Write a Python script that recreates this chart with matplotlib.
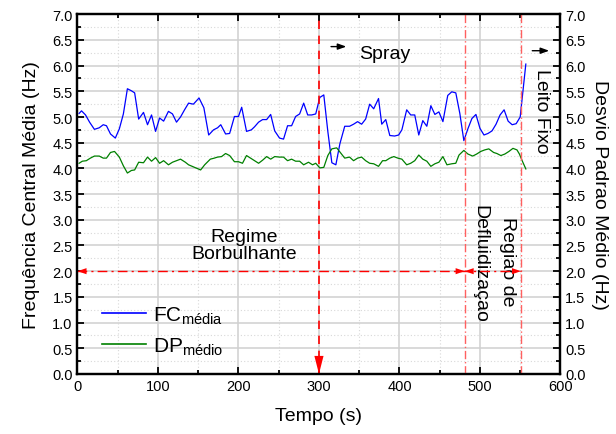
import matplotlib
matplotlib.use("Agg")
import matplotlib.pyplot as plt
from matplotlib.ticker import MultipleLocator

plt.rcParams['font.family'] = ['Liberation Sans', 'DejaVu Sans']
plt.rcParams['mathtext.fontset'] = 'custom'
plt.rcParams['mathtext.rm'] = 'Liberation Sans'
plt.rcParams['mathtext.it'] = 'Liberation Sans:italic'

# ---- data -------------------------------------------------------------
fc_time = [2, 5, 10, 15, 21, 27, 32, 36, 41, 47, 52, 57, 62, 67, 71, 76, 82, 87,
           92, 97, 102, 107, 113, 118, 123, 128, 133, 138, 144, 151, 157, 163,
           169, 174, 178, 184, 189, 195, 200, 204, 210, 216, 220, 225, 230, 235,
           240, 245, 251, 256, 261, 266, 271, 276, 281, 286, 291, 296, 301, 306,
           311, 316, 321, 326, 332, 338, 343, 348, 353, 358, 363, 368, 374, 378,
           383, 388, 394, 399, 403, 409, 414, 419, 424, 429, 434, 439, 444, 449,
           454, 460, 465, 470, 475, 480, 485, 490, 495, 500, 505, 510, 515, 520,
           525, 530, 535, 540, 545, 550, 557]
fc_media = [5.07, 5.12, 5.04, 4.90, 4.76, 4.79, 4.85, 4.83, 4.67, 4.59, 4.77, 5.06,
            5.55, 5.51, 5.47, 4.96, 5.09, 4.85, 5.04, 4.72, 4.98, 4.92, 5.11, 5.06,
            4.90, 5.00, 5.14, 5.27, 5.25, 5.37, 5.18, 4.65, 4.75, 4.79, 4.85, 4.67,
            4.68, 5.01, 5.01, 5.19, 4.72, 4.75, 4.81, 4.90, 4.95, 4.95, 5.05, 4.73,
            4.59, 4.57, 4.83, 4.83, 5.01, 5.06, 5.27, 5.04, 5.04, 5.06, 5.38, 5.43,
            4.72, 4.11, 4.07, 4.48, 4.82, 4.82, 4.86, 4.91, 4.86, 4.96, 5.25, 5.16,
            5.36, 4.86, 4.95, 4.64, 4.63, 4.65, 4.75, 5.14, 5.04, 5.04, 4.65, 4.93,
            4.82, 5.22, 5.05, 5.10, 4.91, 5.42, 5.49, 5.47, 5.07, 4.54, 4.77, 4.97,
            5.05, 4.78, 4.65, 4.68, 4.73, 4.86, 5.04, 5.14, 4.92, 4.85, 4.87, 5.00,
            6.03]

dp_time = [2, 6, 11, 16, 21, 27, 32, 36, 41, 46, 52, 57, 62, 67, 71, 76, 82, 87,
           92, 97, 102, 107, 113, 118, 123, 128, 134, 138, 144, 153, 158, 165,
           170, 174, 179, 184, 189, 195, 200, 205, 210, 215, 220, 225, 230, 235,
           240, 245, 251, 256, 261, 266, 271, 276, 281, 287, 292, 296, 301, 306,
           311, 316, 322, 327, 332, 338, 343, 348, 353, 358, 363, 368, 374, 379,
           383, 388, 393, 398, 403, 409, 414, 419, 424, 429, 434, 439, 444, 449,
           454, 459, 465, 470, 474, 480, 485, 491, 496, 501, 506, 511, 517, 521,
           526, 531, 536, 541, 546, 549, 553, 557]
dp_medio = [4.10, 4.14, 4.15, 4.20, 4.24, 4.24, 4.20, 4.20, 4.31, 4.33, 4.22, 4.05,
            3.91, 3.96, 3.97, 4.12, 4.11, 4.22, 4.14, 4.21, 4.10, 4.15, 4.07, 4.12,
            4.15, 4.18, 4.12, 4.07, 4.03, 3.97, 4.07, 4.18, 4.20, 4.22, 4.23, 4.29,
            4.25, 4.13, 4.13, 4.10, 4.25, 4.20, 4.15, 4.10, 4.16, 4.23, 4.18, 4.23,
            4.22, 4.22, 4.15, 4.18, 4.14, 4.14, 4.07, 4.12, 4.07, 4.10, 4.01, 4.02,
            4.25, 4.38, 4.40, 4.30, 4.20, 4.22, 4.15, 4.20, 4.22, 4.15, 4.10, 4.09,
            4.04, 4.15, 4.15, 4.20, 4.23, 4.20, 4.18, 4.07, 4.10, 4.15, 4.26, 4.18,
            4.14, 4.04, 4.09, 4.12, 4.23, 4.07, 4.09, 4.10, 4.26, 4.35, 4.28, 4.24,
            4.28, 4.33, 4.36, 4.38, 4.31, 4.29, 4.25, 4.28, 4.33, 4.39, 4.36, 4.28,
            4.13, 3.99]

# regime boundaries (s)
t_spray = 300
t_defluid = 481
t_fixo = 551
regime_level = 2.0

# ---- figure -----------------------------------------------------------
fig = plt.figure(figsize=(6.16, 4.35), dpi=100)
ax = fig.add_axes([0.1258, 0.138, 0.784, 0.827])

ax.set_xlim(0, 600)
ax.set_ylim(0, 7)
ax.xaxis.set_major_locator(MultipleLocator(100))
ax.xaxis.set_minor_locator(MultipleLocator(50))
ax.yaxis.set_major_locator(MultipleLocator(0.5))
ax.yaxis.set_minor_locator(MultipleLocator(0.25))
ax.yaxis.set_major_formatter(plt.FormatStrFormatter('%.1f'))

ax.grid(which='major', color='#d0d0d0', lw=1.1, zorder=0)
ax.grid(which='minor', color='#d8d8d8', lw=0.8, ls=(0, (1, 2)), zorder=0)
ax.set_axisbelow(True)

for sp in ax.spines.values():
    sp.set_linewidth(1.6)

ax.tick_params(which='both', direction='in', top=True, right=False,
               labelsize=10.5, width=1.3)
ax.tick_params(which='major', length=5)
ax.tick_params(which='minor', length=3)

l1, = ax.plot(fc_time, fc_media, color='#0000ff', lw=0.9, zorder=3)
l2, = ax.plot(dp_time, dp_medio, color='#008000', lw=0.9, zorder=3)

ax.set_xlabel('Tempo (s)', fontsize=14, labelpad=10)
ax.set_ylabel('Frequência Central Média (Hz)', fontsize=14, labelpad=9)

ax2 = ax.twinx()
ax2.set_ylim(0, 7)
ax2.yaxis.set_major_locator(MultipleLocator(0.5))
ax2.yaxis.set_minor_locator(MultipleLocator(0.25))
ax2.yaxis.set_major_formatter(plt.FormatStrFormatter('%.1f'))
ax2.tick_params(which='both', direction='in', labelsize=10.5, width=1.3)
ax2.tick_params(which='major', length=5)
ax2.tick_params(which='minor', length=3)
for sp in ax2.spines.values():
    sp.set_linewidth(1.6)
ax2.set_ylabel('Desvio Padrao Médio (Hz)', fontsize=14, rotation=-90,
               labelpad=16)

# regime markers
ax.axvline(t_spray, color='#ff0000', lw=1.2, ls=(0, (5, 4)), zorder=4)
ax.annotate('', xy=(t_spray, 0), xytext=(t_spray, 0.35),
            arrowprops=dict(arrowstyle='-|>,head_length=1.3,head_width=0.33',
                            color='#ff0000', lw=0, shrinkA=0, shrinkB=0),
            zorder=5)
for tx in (t_defluid, t_fixo):
    ax.axvline(tx, color='#ff6060', lw=1.0, ls=(0, (6, 2, 1, 2)), zorder=4)

ax.plot([0, t_fixo], [regime_level, regime_level], color='#ff0000', lw=1.0,
        ls=(0, (7, 3, 1.5, 3)), zorder=4)
head = dict(arrowstyle='-|>,head_length=0.65,head_width=0.22', color='#ff0000',
            lw=0, shrinkA=0, shrinkB=0)
for tip, tail in ((0, 12), (t_defluid, t_defluid - 12),
                  (t_defluid, t_defluid + 12), (t_fixo, t_fixo - 12)):
    ax.annotate('', xy=(tip, regime_level), xytext=(tail, regime_level),
                arrowprops=head, zorder=5)

# annotations
black_head = dict(arrowstyle='-|>,head_length=0.5,head_width=0.18', color='black',
                  lw=1.0, shrinkA=0, shrinkB=0)
ax.annotate('', xy=(334, 6.37), xytext=(315, 6.37), arrowprops=black_head)
ax.annotate('', xy=(586, 6.29), xytext=(565, 6.29), arrowprops=black_head)
ax.text(350, 6.24, 'Spray', fontsize=14, ha='left', va='center')
ax.text(577, 5.13, 'Leito Fixo', fontsize=14, rotation=-90, ha='center', va='center')
ax.text(207, 2.51, 'Regime\nBorbulhante', fontsize=14, ha='center', va='center',
        linespacing=1.05)
ax.text(534, 2.20, 'Regiao de', fontsize=14, rotation=-90, ha='center', va='center')
ax.text(500, 2.16, 'Defluidizaçao', fontsize=14, rotation=-90, ha='center', va='center')

leg = ax.legend([l1, l2], [r'FC$_{\mathrm{média}}$', r'DP$_{\mathrm{médio}}$'],
                loc='upper left', bbox_to_anchor=(0.012, 0.245), frameon=False,
                fontsize=15, handlelength=2.1, labelspacing=0.45,
                handletextpad=0.35)
for h in leg.get_lines():
    h.set_linewidth(1.2)

fig.savefig('out.png', dpi=100)
